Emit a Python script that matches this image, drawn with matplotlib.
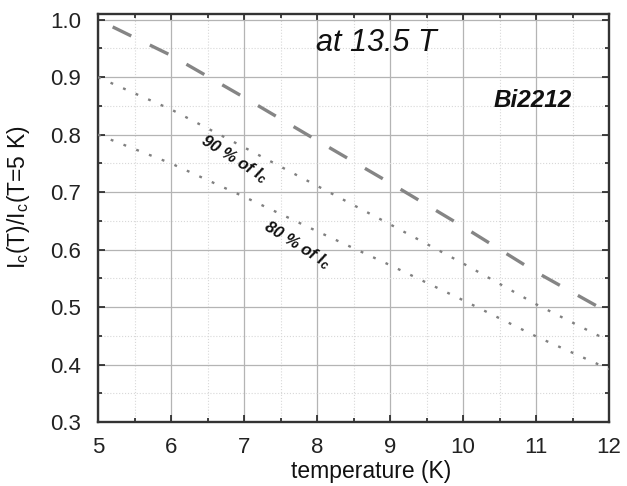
import matplotlib
matplotlib.use("Agg")
import matplotlib.pyplot as plt
from matplotlib.ticker import MultipleLocator

plt.rcParams['font.family'] = ['Liberation Sans', 'DejaVu Sans']
plt.rcParams['mathtext.fontset'] = 'custom'
plt.rcParams['mathtext.rm'] = 'Liberation Sans'
plt.rcParams['mathtext.it'] = 'Liberation Sans:italic'
plt.rcParams['mathtext.bf'] = 'Liberation Sans:bold'

# temperature (K) and normalised critical current
T = [5, 6, 7, 8, 9, 10, 11, 12]
ic_ratio = [1.0, 0.938, 0.865, 0.79, 0.716, 0.64, 0.561, 0.49]
ic_90 = [0.9, 0.844, 0.778, 0.711, 0.644, 0.576, 0.505, 0.441]
ic_80 = [0.8, 0.75, 0.692, 0.632, 0.573, 0.512, 0.449, 0.392]

fig = plt.figure(figsize=(6.27, 4.86), dpi=100)
ax = fig.add_axes([0.1563, 0.1317, 0.815, 0.8395])

# dashed main curve, starts with a gap like the original
ax.plot(T, ic_ratio, color='#858585', lw=2.4, linestyle=(7.5, (6.2, 6.2)),
        solid_capstyle='butt', dash_capstyle='butt', zorder=3)
ax.plot(T, ic_90, color='#808080', lw=1.7, linestyle=(0, (1.2, 4.6)), zorder=3)
ax.plot(T, ic_80, color='#808080', lw=1.7, linestyle=(0, (1.2, 4.6)), zorder=3)

ax.set_xlim(5, 12)
ax.set_ylim(0.3, 1.01)
ax.xaxis.set_major_locator(MultipleLocator(1))
ax.xaxis.set_minor_locator(MultipleLocator(0.5))
ax.yaxis.set_major_locator(MultipleLocator(0.1))
ax.yaxis.set_minor_locator(MultipleLocator(0.05))
ax.yaxis.set_major_formatter(plt.FuncFormatter(lambda v, p: f"{v:.1f}"))

ax.grid(which='major', color='#b4b4b4', lw=0.9, ls='-')
ax.grid(which='minor', color='#d8d8d8', lw=0.8, ls=':')
ax.set_axisbelow(True)

ax.tick_params(which='both', direction='in', top=True, right=True,
               colors='#222222', labelsize=16, width=1.2)
ax.tick_params(which='major', length=5)
ax.tick_params(axis='x', which='major', pad=11)
ax.tick_params(axis='y', which='major', pad=12)
ax.tick_params(which='minor', length=3)
for s in ax.spines.values():
    s.set_linewidth(1.7)
    s.set_color('#333333')

ax.set_xlabel('temperature (K)', fontsize=16.5, color='#111111')
ax.set_ylabel(r'I$_\mathregular{c}$(T)/I$_\mathregular{c}$(T=5 K)', fontsize=16.5,
              color='#111111')
ax.xaxis.set_label_coords(0.535, -0.093)
ax.yaxis.set_label_coords(-0.13, 0.55)

ax.text(8.81, 0.959, 'at 13.5 T', fontsize=22, style='italic',
        ha='center', va='center', color='#111111')
ax.text(10.96, 0.86, 'Bi2212', fontsize=17.5, style='italic', weight='bold',
        ha='center', va='center', color='#111111')
ax.text(6.86, 0.757, r'90 % of I$_\mathregular{c}$', fontsize=12,
        style='italic', weight='bold', rotation=-32,
        ha='center', va='center', color='#111111')
ax.text(7.73, 0.607, r'80 % of I$_\mathregular{c}$', fontsize=12,
        style='italic', weight='bold', rotation=-32,
        ha='center', va='center', color='#111111')

fig.savefig('out.png', dpi=100)
